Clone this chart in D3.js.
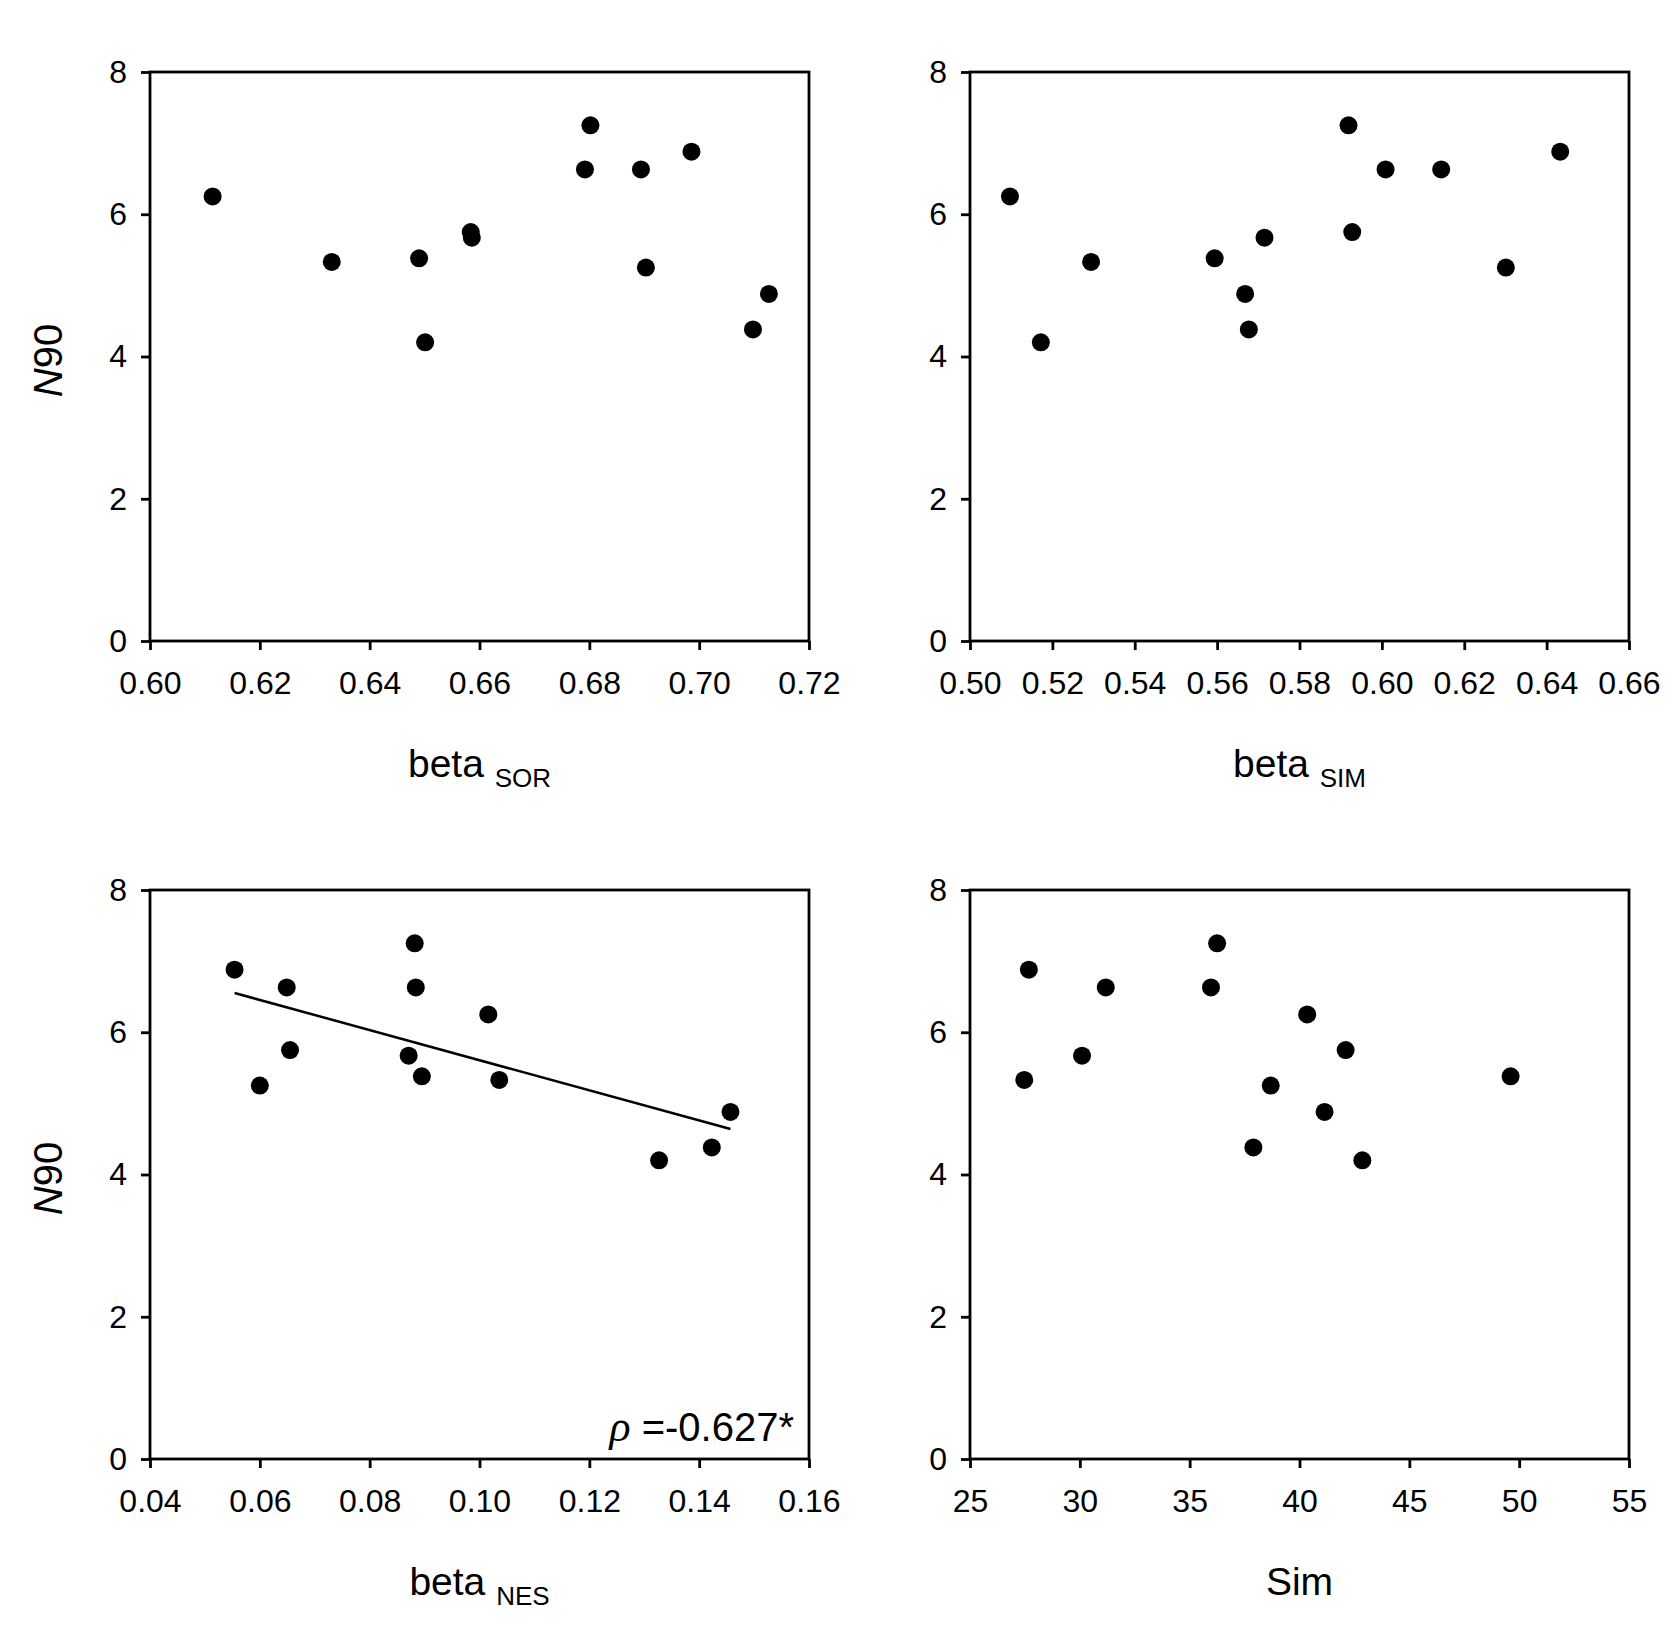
<!DOCTYPE html>
<html>
<head>
<meta charset="utf-8">
<script src="https://cdn.jsdelivr.net/npm/d3@7"></script>
<style>
  body { margin: 0; background: #fff; }
  svg { display: block; }
  text { font-family: "Liberation Sans", Arial, sans-serif; fill: #000; }
</style>
</head>
<body>
<svg id="chart" width="1675" height="1626"></svg>
<script>
// N90 on every panel, 0..8
const yTicks = [0, 2, 4, 6, 8];

// panel A: beta SOR
const sorTicks = [0.60, 0.62, 0.64, 0.66, 0.68, 0.70, 0.72];
const sorX = [0.6114, 0.6331, 0.6490, 0.6501, 0.6584, 0.6586, 0.6792, 0.6802, 0.6894, 0.6903, 0.6986, 0.7098, 0.7127];
const sorY = [6.25, 5.33, 5.38, 4.20, 5.75, 5.67, 6.63, 7.25, 6.63, 5.25, 6.88, 4.38, 4.88];

// panel B: beta SIM
const simTicks = [0.50, 0.52, 0.54, 0.56, 0.58, 0.60, 0.62, 0.64, 0.66];
const simX = [0.5097, 0.5172, 0.5294, 0.5594, 0.5668, 0.5677, 0.5715, 0.5919, 0.5928, 0.6009, 0.6144, 0.6301, 0.6433];
const simY = [6.25, 4.20, 5.33, 5.38, 4.88, 4.38, 5.67, 7.25, 5.75, 6.63, 6.63, 5.25, 6.88];

// panel C: beta NES (with fitted line)
const nesTicks = [0.04, 0.06, 0.08, 0.10, 0.12, 0.14, 0.16];
const nesX = [0.0554, 0.0600, 0.0649, 0.0655, 0.0871, 0.0882, 0.0884, 0.0895, 0.1016, 0.1036, 0.1327, 0.1423, 0.1457];
const nesY = [6.88, 5.25, 6.63, 5.75, 5.67, 7.25, 6.63, 5.38, 6.25, 5.33, 4.20, 4.38, 4.88];

// panel D: Sim
const simCountTicks = [25, 30, 35, 40, 45, 50, 55];
const simCountX = [27.47, 27.68, 30.10, 31.18, 35.97, 36.25, 37.90, 38.69, 40.35, 41.14, 42.10, 42.86, 49.61];
const simCountY = [5.33, 6.88, 5.67, 6.63, 6.63, 7.25, 4.38, 5.25, 6.25, 4.88, 5.75, 4.20, 5.38];

const svg = d3.select("#chart");
const W = 659, H = 569;
const colX = [150, 970], rowY = [72, 890];

function panel(opts) {
  const x0 = colX[opts.col], y0 = rowY[opts.row];
  const xs = d3.scaleLinear().domain(d3.extent(opts.ticks)).range([0, W]);
  const ys = d3.scaleLinear().domain([0, 8]).range([H, 0]);
  const g = svg.append("g").attr("transform", `translate(${x0},${y0})`);

  // axes
  const ax = g.append("g").attr("transform", `translate(0,${H})`)
    .call(d3.axisBottom(xs).tickValues(opts.ticks).tickFormat(opts.fmt).tickSize(9).tickPadding(21));
  const ay = g.append("g")
    .call(d3.axisLeft(ys).tickValues(yTicks).tickFormat(d3.format("d")).tickSize(9).tickPadding(14));
  [ax, ay].forEach(a => {
    a.select(".domain").remove();
    a.selectAll(".tick line").attr("stroke", "#000").attr("stroke-width", 2.8);
    a.selectAll(".tick text").style("font-size", "32px").attr("fill", "#000");
  });

  // frame
  g.append("rect").attr("width", W).attr("height", H)
    .attr("fill", "none").attr("stroke", "#000").attr("stroke-width", 2.8);

  const pts = opts.x.map((v, i) => ({ x: v, y: opts.y[i] }));

  if (opts.fit) {
    const mx = d3.mean(pts, d => d.x), my = d3.mean(pts, d => d.y);
    const slope = d3.sum(pts, d => (d.x - mx) * (d.y - my)) / d3.sum(pts, d => (d.x - mx) ** 2);
    const ends = d3.extent(pts, d => d.x);
    g.append("line")
      .attr("x1", xs(ends[0])).attr("y1", ys(my + slope * (ends[0] - mx)))
      .attr("x2", xs(ends[1])).attr("y2", ys(my + slope * (ends[1] - mx)))
      .attr("stroke", "#000").attr("stroke-width", 2.5);
  }

  g.selectAll(".dot").data(pts).enter().append("circle")
    .attr("class", "dot")
    .attr("cx", d => xs(d.x))
    .attr("cy", d => ys(d.y))
    .attr("r", 9)
    .attr("fill", "#000");

  // x title
  const t = g.append("text").attr("x", W / 2).attr("y", H + 136)
    .attr("text-anchor", "middle").style("font-size", "39px");
  t.append("tspan").text(opts.title);
  if (opts.sub) {
    t.append("tspan").text(" ").style("font-size", "39px");
    t.append("tspan").text(opts.sub).attr("dy", 10).style("font-size", "26px");
  }

  // y title
  if (opts.col === 0) {
    const yt = g.append("text")
      .attr("transform", `translate(${62 - x0},${H / 2 + 4}) rotate(-90)`)
      .attr("text-anchor", "middle").style("font-size", "40px");
    yt.append("tspan").text("N").style("font-style", "italic");
    yt.append("tspan").text("90");
  }

  if (opts.note) {
    const nt = g.append("text").attr("x", W - 15).attr("y", H - 18)
      .attr("text-anchor", "end").style("font-size", "40px");
    nt.append("tspan").text("ρ").style("font-family", "'Liberation Serif', serif").style("font-style", "italic").style("font-size", "44px");
    nt.append("tspan").text(" =-0.627*");
  }
}

const f2 = d3.format(".2f");
panel({ col: 0, row: 0, ticks: sorTicks, fmt: f2, x: sorX, y: sorY, title: "beta", sub: "SOR" });
panel({ col: 1, row: 0, ticks: simTicks, fmt: f2, x: simX, y: simY, title: "beta", sub: "SIM" });
panel({ col: 0, row: 1, ticks: nesTicks, fmt: f2, x: nesX, y: nesY, title: "beta", sub: "NES", fit: true, note: true });
panel({ col: 1, row: 1, ticks: simCountTicks, fmt: d3.format("d"), x: simCountX, y: simCountY, title: "Sim" });
</script>
</body>
</html>
